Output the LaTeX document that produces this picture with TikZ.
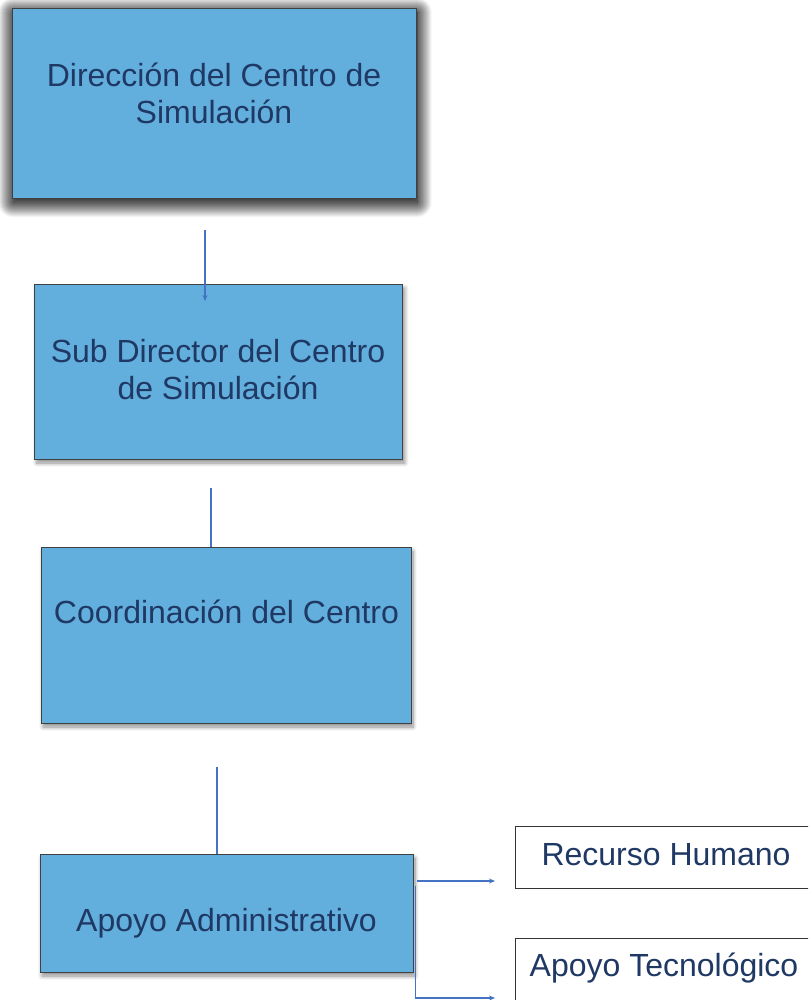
\documentclass[tikz,border=0pt]{standalone}
\usepackage{fontspec}
\setmainfont{Liberation Sans}
\usetikzlibrary{shadows.blur,arrows.meta}

\definecolor{unitfill}{RGB}{98,175,221}
\definecolor{unitink}{RGB}{31,56,100}
\definecolor{linkblue}{RGB}{68,114,196}

\tikzset{
  unit/.style={draw=black!75, line width=0.7pt, fill=unitfill, inner sep=0pt, outer sep=0pt,
    blur shadow={shadow xshift=2pt, shadow yshift=-4pt, shadow blur radius=4pt, shadow blur steps=10, shadow opacity=45}},
  topunit/.style={unit, blur shadow={shadow xshift=1pt, shadow yshift=-4pt, shadow blur radius=15pt, shadow blur steps=30, shadow opacity=80}},
  subunit/.style={draw=black!80, line width=0.8pt, fill=white, inner sep=0pt, outer sep=0pt},
  unitlabel/.style={text=unitink, font=\fontsize{32}{37}\selectfont, align=center},
  link/.style={draw=linkblue, line width=1.2pt}
}

\begin{document}
\begin{tikzpicture}[x=1pt, y=-1pt, >={Stealth[length=6pt,width=5pt]}]
  \useasboundingbox (0,0) rectangle (808,1000);
  \clip (0,0) rectangle (808,1000);

  % main chain
  \node[topunit, minimum width=404pt, minimum height=190pt] (dir) at (214,103.5) {};
  \node[unit, minimum width=368pt, minimum height=175pt] (subdir) at (218.8,371.5) {};
  \node[unit, minimum width=370pt, minimum height=176pt] (coord) at (226,635) {};
  \node[unit, minimum width=373pt, minimum height=118pt] (admin) at (226.5,913) {};

  \node[unitlabel] (dirlbl) at (214,93) {Dirección del Centro de\\Simulación};
  \node[unitlabel] (subdirlbl) at (218,370) {Sub Director del Centro\\de Simulación};
  \node[unitlabel] (coordlbl) at (226.5,612) {Coordinación del Centro};
  \node[unitlabel] (adminlbl) at (226.5,923) {Apoyo Administrativo};

  % support units
  \node[subunit, minimum width=302pt, minimum height=62pt] (rrhh) at (666,857.5) {};
  \node[subunit, minimum width=302pt, minimum height=62pt] (tec) at (666,969) {};
  \node[unitlabel] (rrhhlbl) at (666,855) {Recurso Humano};
  \node[unitlabel] (teclbl) at (664,968) {Apoyo Tecnológico};

  % connectors
  \coordinate (a1) at (205,230);
  \coordinate (a2) at (205,301);
  \draw[link,->] (a1) -- (a2);

  \coordinate (b1) at (211,488);
  \draw[link] (b1) -- (b1 |- coord.north);

  \coordinate (c1) at (217,767);
  \draw[link] (c1) -- (c1 |- admin.north);

  \coordinate (d1) at (417,881);
  \coordinate (d2) at (495,881);
  \coordinate (e1) at (415.7,886);
  \coordinate (e2) at (415.7,998);
  \coordinate (e3) at (495,998);
  \draw[link,->] (d1) -- (d2);
  \draw[link,->] (e1) -- (e2) -- (e3);
\end{tikzpicture}
\end{document}
